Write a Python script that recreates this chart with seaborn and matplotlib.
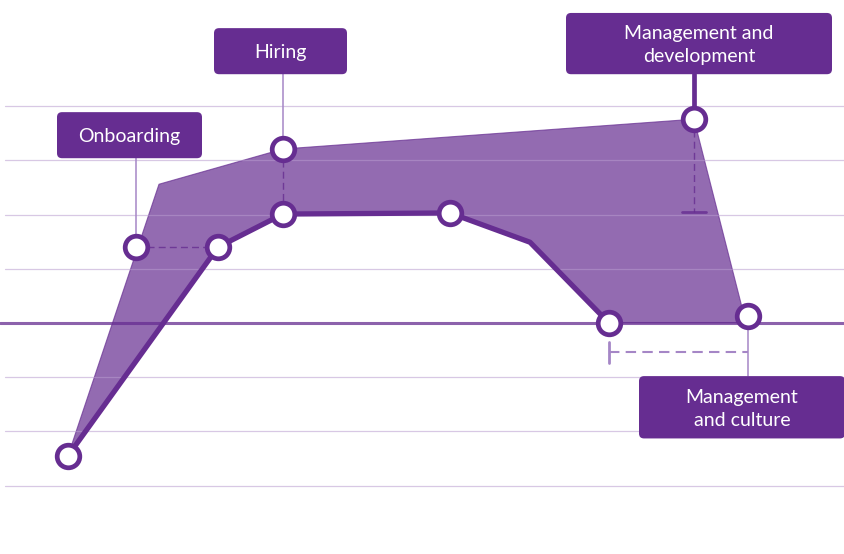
#!/usr/bin/env python3

import seaborn as sns
from matplotlib import pyplot as plt
from matplotlib.patches import FancyBboxPatch

# main experience line (lower edge of the shaded band)
stage_x = [6.8, 21.8, 28.3, 45.0, 53.0, 60.9]
stage_y = [-2.45, 1.40, 2.01, 2.03, 1.49, 0.0]
stage_marked = [True, True, True, True, False, True]

# upper edge of the shaded band
upper_x = [6.8, 15.9, 28.3, 69.4, 74.6]
upper_y = [-2.45, 2.56, 3.21, 3.76, 0.0]

# labelled points
label_names = ['Onboarding', 'Hiring', 'Management and\ndevelopment',
               'Management\nand culture']
label_x = [13.6, 28.3, 69.4, 74.8]
label_y = [1.40, 3.21, 3.76, 0.13]

grid_levels = [-3, -2, -1, 1, 2, 3, 4]

PURPLE = '#662D91'
LIGHT = '#A586C6'


def plot(out_file):
    sns.set_theme(style="white")
    plt.rcParams['font.family'] = ['Lato', 'DejaVu Sans']

    f = plt.figure(figsize=(8.45, 5.54), dpi=100)
    ax = f.add_axes([0, 0, 1, 1])
    ax.set_xlim(0, 84.5)
    ax.set_ylim(-4.262, 5.959)
    ax.axis('off')

    # shaded band between upper edge and main line
    poly_x = upper_x + [stage_x[-1]] + stage_x[::-1]
    poly_y = upper_y + [stage_y[-1]] + stage_y[::-1]
    ax.fill(poly_x, poly_y, facecolor=PURPLE, alpha=0.7,
            edgecolor=PURPLE, linewidth=0.8, zorder=2)

    # grid + baseline
    for g in grid_levels:
        ax.plot([0.5, 84.5], [g, g], color='#B89CCF', alpha=0.55,
                linewidth=0.9, zorder=3)
    ax.axhline(0, color=PURPLE, alpha=0.75, linewidth=2.2, zorder=3)

    # dashed guides
    ax.plot([label_x[0], stage_x[1]], [label_y[0], stage_y[1]],
            color=PURPLE, alpha=0.8, linewidth=1, dashes=(5, 3), zorder=4)
    ax.plot([label_x[1], stage_x[2]], [label_y[1], stage_y[2]],
            color=PURPLE, alpha=0.8, linewidth=1, dashes=(5, 3), zorder=4)
    ax.plot([label_x[2], label_x[2]], [label_y[2], 2.05],
            color=PURPLE, alpha=0.8, linewidth=1, dashes=(5, 3), zorder=4)
    ax.plot([68.2, 70.6], [2.05, 2.05], color=PURPLE, alpha=0.8,
            linewidth=2, zorder=4)
    ax.plot([stage_x[-1], label_x[3]], [-0.54, -0.54], color=LIGHT,
            linewidth=1.5, dashes=(5, 3), zorder=4)
    ax.plot([stage_x[-1], stage_x[-1]], [-0.35, -0.73], color=LIGHT,
            linewidth=2, zorder=4)

    # connectors from label boxes to points
    ax.plot([label_x[0], label_x[0]], [3.04, label_y[0]], color=LIGHT,
            linewidth=1.1, zorder=4)
    ax.plot([label_x[1], label_x[1]], [4.59, label_y[1]], color=LIGHT,
            linewidth=1.1, zorder=4)
    ax.plot([label_x[2], label_x[2]], [4.59, label_y[2]], color=PURPLE,
            linewidth=3.4, zorder=4)
    ax.plot([label_x[3], label_x[3]], [label_y[3], -0.98], color=LIGHT,
            linewidth=1.1, zorder=4)

    # main line
    sns.lineplot(x=stage_x, y=stage_y, sort=False, color=PURPLE,
                 linewidth=3.8, ax=ax, zorder=5)

    mx = [x for x, m in zip(stage_x, stage_marked) if m] + label_x
    my = [y for y, m in zip(stage_y, stage_marked) if m] + label_y
    sns.scatterplot(x=mx, y=my, s=265, marker='o', facecolor='white',
                    edgecolor=PURPLE, linewidth=3.4, ax=ax, zorder=6)

    # label boxes: (x0, x1, y0, y1) in data units
    boxes = [(5.7, 20.2, 3.04, 3.89),
             (21.4, 34.7, 4.59, 5.44),
             (56.6, 83.2, 4.59, 5.72),
             (63.9, 84.5, -0.98, -2.13)]
    aspect = (1 / 54.2) / (1 / 10)
    for name, (x0, x1, y0, y1) in zip(label_names, boxes):
        lo, hi = min(y0, y1), max(y0, y1)
        ax.add_patch(FancyBboxPatch((x0, lo), x1 - x0, hi - lo,
                                    boxstyle='round,pad=0,rounding_size=0.5',
                                    mutation_aspect=aspect,
                                    facecolor=PURPLE, edgecolor='none',
                                    zorder=7))
        ax.text((x0 + x1) / 2, (lo + hi) / 2 - 0.03, name, ha='center',
                va='center', color='white', fontsize=14,
                linespacing=1.45, zorder=8)

    f.savefig(out_file, dpi=100)


if __name__ == '__main__':
    plot('out.png')
